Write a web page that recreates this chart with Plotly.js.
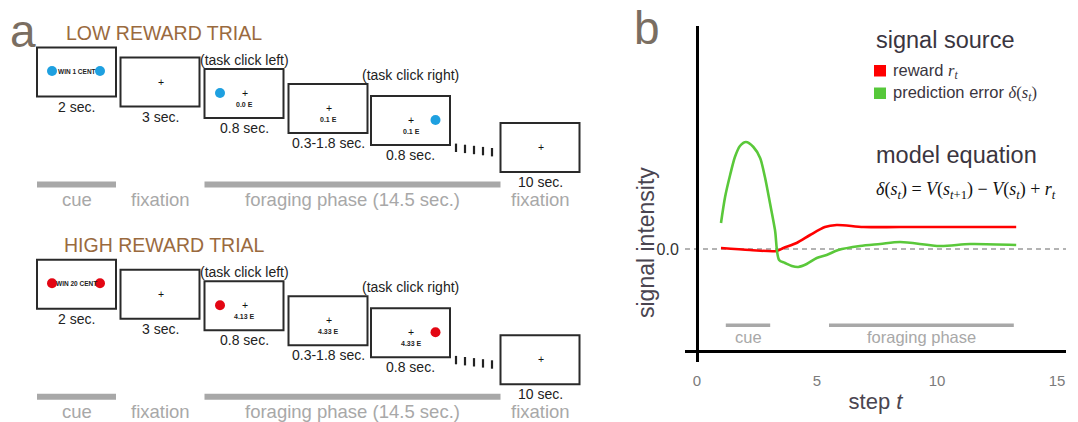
<!DOCTYPE html>
<html><head><meta charset="utf-8">
<script src="https://cdn.plot.ly/plotly-3.0.1.min.js"></script>
<style>html,body{margin:0;padding:0;background:#fff;} #chart{width:1078px;height:422px;}</style>
</head><body><div id="chart"></div>
<script>
// ================= DATA =================
// Panel b: simulated signals over steps
const stepGreen = [1.0, 1.17, 1.38, 1.58, 1.79, 2.04, 2.35, 2.63, 2.83, 3.04, 3.25, 3.42, 3.67, 3.95, 4.22, 4.57, 4.99, 5.4, 5.89, 6.79, 7.63, 8.46, 10.13, 11.38, 13.3];
const predictionError = [0.26, 0.52, 0.74, 0.92, 1.03, 1.07, 1.02, 0.91, 0.72, 0.46, 0.19, -0.11, -0.14, -0.17, -0.18, -0.15, -0.09, -0.06, -0.01, 0.03, 0.05, 0.07, 0.03, 0.05, 0.04];
const stepRed = [1.0, 2.21, 3.32, 3.6, 4.15, 4.71, 5.33, 5.82, 6.93, 8.46, 13.3];
const reward = [0.01, -0.01, -0.02, 0.01, 0.06, 0.14, 0.22, 0.24, 0.22, 0.22, 0.22];
const xTicks = [0, 5, 10, 15];
const yTickVals = [0];
const yTickText = ['0.0'];
const phaseNamesB = ['cue', 'foraging phase'];
const phaseStartB = [1.2, 5.5];
const phaseEndB = [3.05, 13.2];
const legendNames = ['reward', 'prediction error'];

// Panel a: trial schematic
const trialNames = ['LOW REWARD TRIAL', 'HIGH REWARD TRIAL'];
const screenDurations = ['2 sec.', '3 sec.', '0.8 sec.', '0.3-1.8 sec.', '0.8 sec.', '10 sec.'];
const cueTexts = ['WIN 1 CENT', 'WIN 20 CENT'];
const earnings = [['0.0 E', '0.1 E', '0.1 E'], ['4.13 E', '4.33 E', '4.33 E']];
const clickNotes = ['(task click left)', '(task click right)'];
const phaseLabelsA = ['cue', 'fixation', 'foraging phase (14.5 sec.)', 'fixation'];

// ================= LAYOUT / STYLE =================
const W = 1078, H = 422;
const BOX_LEFT = [37, 120.5, 204.5, 288.5, 371, 500.5];
const BOX_TOP = [47.5, 57.5, 69, 84, 96, 123];
const BOX_W = 79, BOX_H = 49;
const TRIAL_DY = [0, 212.3];
const TRIAL_DOT = ['#1ea0e0', '#e30613'];
const SANS = 'Liberation Sans, Arial, sans-serif';
const SERIF = 'Liberation Serif, Times New Roman, serif';
const GRAY = '#a8a8a8';

const shapes = [], annotations = [], traces = [];

function ann(x, y, text, font, extra) {
  annotations.push(Object.assign({xref: 'x2', yref: 'y2', x: x, y: y, text: text, showarrow: false,
    xanchor: 'center', yanchor: 'middle', font: font}, extra || {}));
}

trialNames.forEach((name, t) => {
  const dy = TRIAL_DY[t];
  ann(164, 33 + dy, name, {family: SANS, size: 19.5, color: '#9a6a3e'});
  // boxes
  BOX_LEFT.forEach((L, i) => {
    const T = BOX_TOP[i] + dy;
    shapes.push({type: 'rect', xref: 'x2', yref: 'y2', x0: L, x1: L + BOX_W, y0: T, y1: T + BOX_H,
      line: {color: '#2a2a2a', width: 2}, fillcolor: 'rgba(0,0,0,0)'});
    ann(L + BOX_W / 2, T + BOX_H + 10, screenDurations[i], {family: SANS, size: 14, color: '#222'});
    if (i > 0) ann(L + 40, T + 24, '+', {family: SANS, size: 10.5, color: '#111'});
    if (i >= 2 && i <= 4) ann(L + 40, T + 35.5, '<b>' + earnings[t][i - 2] + '</b>', {family: SANS, size: 7, color: '#222'});
  });
  ann(BOX_LEFT[0] + 39.5, BOX_TOP[0] + dy + 23.5, '<b>' + cueTexts[t] + '</b>', {family: SANS, size: 6.5, color: '#222'});
  // click notes
  ann(BOX_LEFT[2] + 39.5, BOX_TOP[2] + dy - 9.5, clickNotes[0], {family: SANS, size: 14, color: '#222'});
  ann(BOX_LEFT[4] + 39, BOX_TOP[4] + dy - 21.5, clickNotes[1], {family: SANS, size: 14, color: '#222'});
  // colored dots
  traces.push({type: 'scatter', mode: 'markers', xaxis: 'x2', yaxis: 'y2', hoverinfo: 'skip', showlegend: false,
    x: [BOX_LEFT[0] + 15, BOX_LEFT[0] + 63, BOX_LEFT[2] + 15.5, BOX_LEFT[4] + 64.5],
    y: [BOX_TOP[0] + dy + 23.5, BOX_TOP[0] + dy + 23.5, BOX_TOP[2] + dy + 24, BOX_TOP[4] + dy + 24],
    marker: {color: TRIAL_DOT[t], size: 10}});
  // ellipsis ticks
  const mx = [], my = [];
  for (let k = 0; k < 5; k++) { mx.push(456 + k * 9); my.push(147.8 + k * 1.1 + dy); }
  traces.push({type: 'scatter', mode: 'markers', xaxis: 'x2', yaxis: 'y2', hoverinfo: 'skip', showlegend: false,
    x: mx, y: my, marker: {symbol: 'line-ns', size: 6, line: {width: 2.2, color: '#222'}}});
  // phase bars
  const barY = 184.5 + dy;
  shapes.push({type: 'line', xref: 'x2', yref: 'y2', x0: BOX_LEFT[0], x1: BOX_LEFT[0] + BOX_W, y0: barY, y1: barY, line: {color: GRAY, width: 6}});
  shapes.push({type: 'line', xref: 'x2', yref: 'y2', x0: BOX_LEFT[2], x1: BOX_LEFT[5], y0: barY, y1: barY, line: {color: GRAY, width: 6}});
  const labelX = [BOX_LEFT[0] + 39.5, BOX_LEFT[1] + 39.5, (BOX_LEFT[2] + BOX_LEFT[5]) / 2, BOX_LEFT[5] + 39.5];
  phaseLabelsA.forEach((p, k) => ann(labelX[k], 199.5 + dy, p, {family: SANS, size: 18.5, color: GRAY}));
});

// panel letters
ann(23, 31, 'a', {family: SANS, size: 46, color: '#7a6e62'});
ann(647, 28, 'b', {family: SANS, size: 46, color: '#7a6e62'});

// panel b legend / equation text
const DARK = '#3a3540';
ann(874, 40, 'signal source', {family: SANS, size: 23.5, color: DARK}, {xanchor: 'left'});
shapes.push({type: 'rect', xref: 'x2', yref: 'y2', x0: 874, x1: 886, y0: 65, y1: 76.5, fillcolor: '#ff0000', line: {width: 0}});
shapes.push({type: 'rect', xref: 'x2', yref: 'y2', x0: 874, x1: 886, y0: 87.5, y1: 99, fillcolor: '#56c83a', line: {width: 0}});
ann(891, 71, legendNames[0] + ' <span style="font-family:Liberation Serif"><i>r</i><sub><i>t</i></sub></span>', {family: SANS, size: 16.5, color: DARK}, {xanchor: 'left'});
ann(891, 93, legendNames[1] + ' <span style="font-family:Liberation Serif"><i>δ</i>(<i>s</i><sub><i>t</i></sub>)</span>', {family: SANS, size: 16.5, color: DARK}, {xanchor: 'left'});
ann(874, 155, 'model equation', {family: SANS, size: 23.5, color: DARK}, {xanchor: 'left'});
ann(874, 190, '<i>δ</i>(<i>s</i><sub><i>t</i></sub>) = <i>V</i>(<i>s</i><sub><i>t</i>+1</sub>) − <i>V</i>(<i>s</i><sub><i>t</i></sub>) + <i>r</i><sub><i>t</i></sub>', {family: SERIF, size: 18, color: '#111'}, {xanchor: 'left'});
// y-axis title (centered on the zero level like the reference)
ann(646, 243, 'signal intensity', {family: SANS, size: 23, color: '#4a4550'}, {textangle: -90});

// panel b traces
traces.unshift(
  {type: 'scatter', mode: 'lines', x: stepRed, y: reward, name: 'reward', showlegend: false,
   line: {color: '#ff0000', width: 2.6, shape: 'spline', smoothing: 0.8}},
  {type: 'scatter', mode: 'lines', x: stepGreen, y: predictionError, name: 'prediction error', showlegend: false,
   line: {color: '#5ac83a', width: 2.6, shape: 'spline', smoothing: 0.8}}
);

// zero dashed line
shapes.push({type: 'line', xref: 'x domain', yref: 'y', x0: 0, x1: 1, y0: 0, y1: 0, layer: 'below',
  line: {color: '#9a9a9a', width: 1.5, dash: '5px,4px'}});
// phase bars in panel b
phaseNamesB.forEach((p, k) => {
  shapes.push({type: 'line', xref: 'x', yref: 'y', x0: phaseStartB[k], x1: phaseEndB[k], y0: -0.763, y1: -0.763,
    line: {color: GRAY, width: 3.5}});
  annotations.push({xref: 'x', yref: 'y', x: (phaseStartB[k] + phaseEndB[k]) / 2, y: -0.88, text: p, showarrow: false,
    font: {family: SANS, size: 16.5, color: GRAY}});
});

const layout = {
  width: W, height: H, margin: {l: 0, r: 0, t: 0, b: 0},
  paper_bgcolor: '#fff', plot_bgcolor: 'rgba(0,0,0,0)', showlegend: false,
  font: {family: SANS},
  xaxis: {domain: [685 / W, 1066 / W], range: [-0.5, 15.375], anchor: 'free', position: 1 - 351 / H,
    showline: true, linecolor: '#000', linewidth: 2.5, showgrid: false, zeroline: false,
    tickvals: xTicks, ticks: '', ticklabelstandoff: 15,
    tickfont: {family: SANS, size: 15, color: '#7b7b7b'},
    title: {text: 'step <i>t</i>', font: {family: SANS, size: 22, color: '#4a4550'}, standoff: 5}},
  yaxis: {domain: [1 - 362 / H, 1 - 26 / H], range: [-1.13, 2.23], anchor: 'free', position: 697 / W,
    showline: true, linecolor: '#000', linewidth: 2.5, showgrid: false, zeroline: false,
    tickvals: yTickVals, ticktext: yTickText, ticks: '', ticklabelstandoff: 14,
    tickfont: {family: SANS, size: 16, color: '#333'}},
  xaxis2: {domain: [0, 1], range: [0, W], visible: false, fixedrange: true},
  yaxis2: {domain: [0, 1], range: [H, 0], visible: false, fixedrange: true},
  shapes: shapes, annotations: annotations
};

Plotly.newPlot('chart', traces, layout, {displayModeBar: false, staticPlot: true});
</script>
</body></html>
